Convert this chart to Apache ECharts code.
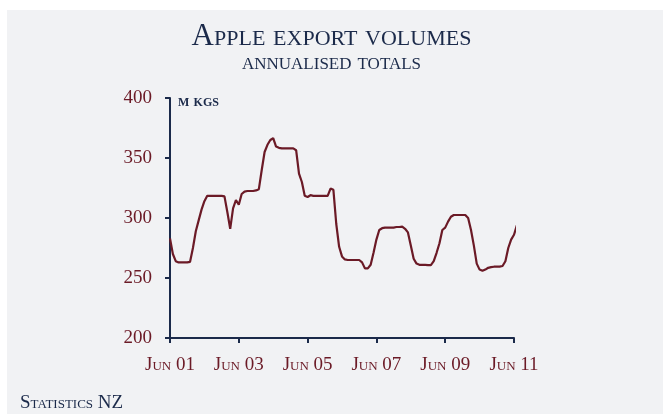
<!DOCTYPE html>
<html><head><meta charset="utf-8">
<script src="https://cdn.jsdelivr.net/npm/echarts@6/dist/echarts.min.js"></script>
<style>html,body{margin:0;padding:0;background:#fff}#c{width:663px;height:414px}</style>
</head><body><div id="c"></div>
<script>
// month index from Jun 2001
const volumes = [283,270,264,263,263,263,263,263.5,275,289,298,307,314,318.5,318.5,318.5,318.5,318.5,318.5,318,305,291,308,315,311,320,322,322.5,322.5,322.5,323,324,340,355,361,365,366.5,359.5,358.5,358,358,358,358,358,356.5,337,330,318.5,317.5,319,318.5,318.5,318.5,318.5,318.5,318.5,324.5,323.5,295,276,268,265.5,265,265,265,265,265,263,258,258,261,271,282,290,291.5,292,292,292,292,292.5,292.5,292.8,291,288,277,266,262,261,261,261,260.8,260.8,264,271,279,290,292,297,301,302.5,302.5,302.5,302.5,302.5,300,290,277,262,257,256,257,258.5,259,259.4,259.5,259.5,260,264,275,282,286,294];
const xTickLabels = ['Jun 01','Jun 03','Jun 05','Jun 07','Jun 09','Jun 11'];
const yTicks = [200,250,300,350,400];
const titleText = 'Apple export volumes';
const subtitleText = 'annualised totals';
const sourceText = 'Statistics NZ';
const unitText = 'm kgs';

const FF = '"Liberation Serif", serif';
const NAVY = '#1b2a4a';
const MAROON = '#6b1a26';
const chart = echarts.init(document.getElementById('c'));
chart.setOption({
  backgroundColor: '#ffffff',
  animation: false,
  graphic: [
    {type:'rect', shape:{x:7,y:10,width:656,height:404}, style:{fill:'#f1f2f4'}, z:-10}
  ],
  title: [
    {text: titleText, left: 'center', top: 21, padding:0, textStyle:{fontFamily:FF, fontStyle:'small-caps', fontWeight:'normal', fontSize:31, color:NAVY}},
    {text: subtitleText, left: 'center', top: 51, padding:0, textStyle:{fontFamily:FF, fontStyle:'small-caps', fontWeight:'normal', fontSize:24, color:NAVY}},
    {text: sourceText, left: 20, top: 394, padding:0, textStyle:{fontFamily:FF, fontStyle:'small-caps', fontWeight:'normal', fontSize:19, color:NAVY}}
  ],
  grid: {left:170, right:149, top:98, bottom:76, containLabel:false},
  xAxis: {
    type:'value', min:0, max:120, interval:24,
    axisLine:{show:true, lineStyle:{color:NAVY, width:2}},
    axisTick:{show:true, length:5, lineStyle:{color:NAVY, width:2}},
    splitLine:{show:false},
    axisLabel:{margin:18, fontFamily:FF, fontStyle:'small-caps', fontSize:19, color:MAROON,
      formatter: v => xTickLabels[Math.round(v/24)] || ''}
  },
  yAxis: {
    type:'value', min:yTicks[0], max:yTicks[yTicks.length-1], interval:50,
    name: unitText, nameLocation:'end', nameGap:-4,
    nameTextStyle:{fontFamily:FF, fontStyle:'small-caps', fontWeight:'bold', fontSize:17, color:NAVY, align:'left', verticalAlign:'middle', padding:[0,0,0,8]},
    axisLine:{show:true, lineStyle:{color:NAVY, width:2}},
    axisTick:{show:true, length:5, lineStyle:{color:NAVY, width:2}},
    splitLine:{show:false},
    axisLabel:{margin:18, fontFamily:FF, fontSize:19, color:MAROON}
  },
  series: [{
    type:'line', data: volumes.map((v,i)=>[i,v]), showSymbol:false, clip:false,
    lineStyle:{color:MAROON, width:2.2}, z:3
  }]
});
</script></body></html>
